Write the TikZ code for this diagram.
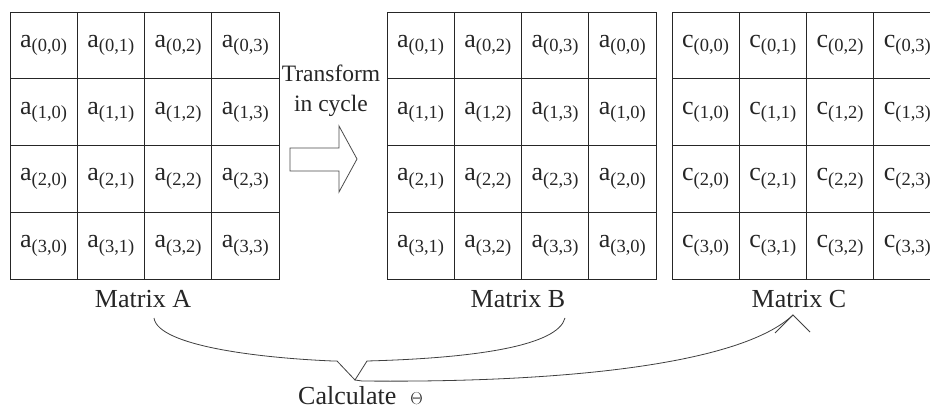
\documentclass[tikz,border=0pt]{standalone}
\usepackage{fontspec}
\setmainfont{Liberation Serif}
\newcommand\cellt[2]{#1{\fontsize{18.5}{20}\selectfont\raisebox{-4.5pt}{(#2)}}}
\begin{document}
\begin{tikzpicture}[x=1pt,y=-1pt,
  ln/.style={draw=black!85,line width=0.9pt},
  cellbox/.style={ln,minimum width=67.25pt,minimum height=66.75pt,inner sep=0pt,
     font=\fontsize{26}{28}\selectfont,text=black!85,anchor=center},
  lbl/.style={font=\fontsize{26}{28}\selectfont,text=black!85,inner sep=0pt,anchor=base},
  curve/.style={draw=black!75,line width=0.8pt}]
\useasboundingbox (0,0) rectangle (930,412);
\fill[white] (0,0) rectangle (930,412);
\begin{scope}
\clip (0,0) rectangle (930,412);
% Matrix A
\foreach \r in {0,1,2,3}{
  \foreach \c in {0,1,2,3}{
    \node[cellbox] (A\r\c) at ({10+33.625+67.25*\c},{12+33.375+66.75*\r}) {\cellt{a}{\r,\c}};
  }
}
% Matrix B (cyclic shift)
\foreach \r in {0,1,2,3}{
  \foreach \c/\k in {0/1,1/2,2/3,3/0}{
    \node[cellbox] (B\r\c) at ({387+33.625+67.25*\c},{12+33.375+66.75*\r}) {\cellt{a}{\r,\k}};
  }
}
% Matrix C
\foreach \r in {0,1,2,3}{
  \foreach \c in {0,1,2,3}{
    \node[cellbox] (C\r\c) at ({672+33.625+67.25*\c},{12+33.375+66.75*\r}) {\cellt{c}{\r,\c}};
  }
}
\end{scope}
% labels
\node[lbl] (mA) at (143,307) {Matrix A};
\node[lbl] (mB) at (518,307) {Matrix B};
\node[lbl] (mC) at (799,307) {Matrix C};
\node[lbl,font=\fontsize{23.5}{25}\selectfont] (tr1) at (331,82) {Transform};
\node[lbl,font=\fontsize{23.5}{25}\selectfont] (tr2) at (331,112) {in cycle};
\node[lbl,anchor=base west] (calc) at (298,404) {Calculate\hspace{14pt}{\fontsize{17}{18}\selectfont$\Theta$}};
% block arrow
\draw[draw=black!70,line width=0.8pt,fill=white]
  (290,148) -- (339,148) -- (339,126) -- (357,159) -- (339,192) -- (339,171) -- (290,171) -- cycle;
% brace curves
\coordinate (pA) at (154,318);
\coordinate (pB) at (565,318);
\coordinate (vL) at (337,361);
\coordinate (vR) at (367,361);
\coordinate (vB) at (355,380);
\coordinate (tipC) at (793,315);
\draw[curve] (pA) .. controls (158,346) and (260,358) .. (333,361) -- (vL) -- (vB) -- (vR)
   .. controls (480,358) and (558,345) .. (pB);
\draw[curve] (vB) -- (362,381) .. controls (560,383) and (740,365) .. (tipC);
\draw[curve] (775,333) -- (tipC) -- (810,332);
\end{tikzpicture}
\end{document}
